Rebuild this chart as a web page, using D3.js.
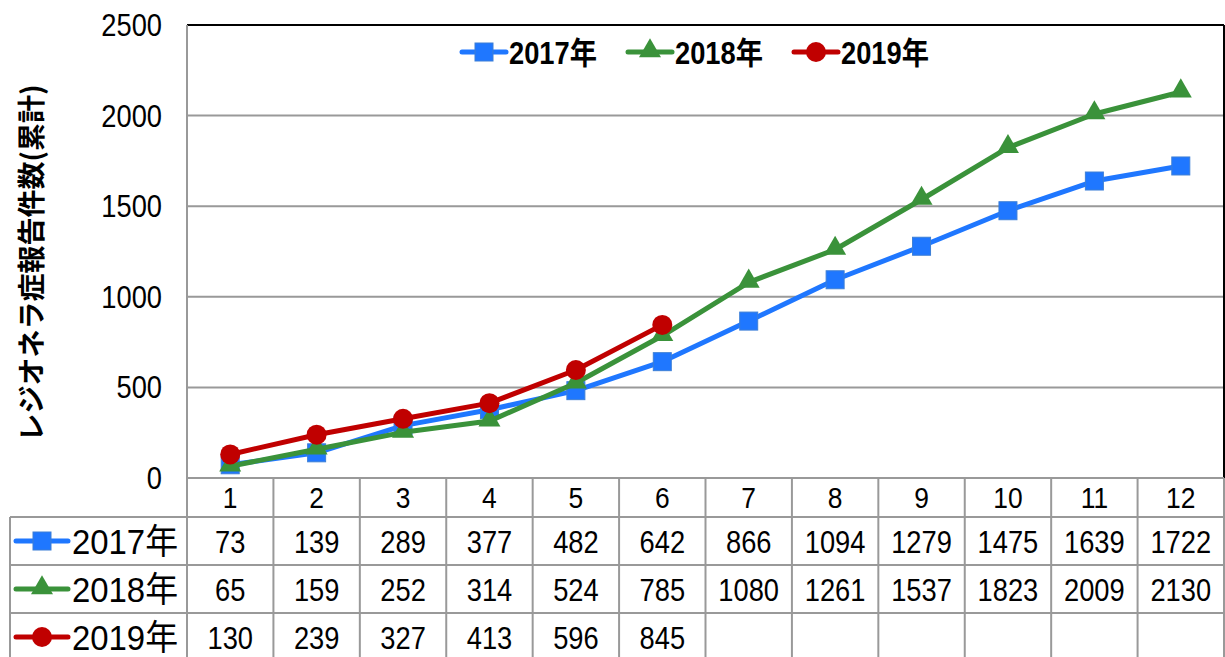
<!DOCTYPE html>
<html>
  <head>
    <meta charset="utf-8">
    <script src="https://d3js.org/d3.v7.min.js"></script>
    <style>
      body { margin: 0; background: #fff; }
      text { font-family: "Liberation Sans", Arial, "Noto Sans CJK JP", sans-serif; }
    </style>
  </head>
  <body>
    <svg></svg>
    <script type="text/javascript">

      var months = [1, 2, 3, 4, 5, 6, 7, 8, 9, 10, 11, 12];
      var y2017 = [73, 139, 289, 377, 482, 642, 866, 1094, 1279, 1475, 1639, 1722];
      var y2018 = [65, 159, 252, 314, 524, 785, 1080, 1261, 1537, 1823, 2009, 2130];
      var y2019 = [130, 239, 327, 413, 596, 845];
      var seriesNames = ["2017年", "2018年", "2019年"];
      var yTicks = [0, 500, 1000, 1500, 2000, 2500];

      var series = [
        {name: seriesNames[0], values: y2017, color: "#1f77ff", shape: "square"},
        {name: seriesNames[1], values: y2018, color: "#3a923a", shape: "triangle"},
        {name: seriesNames[2], values: y2019, color: "#c00000", shape: "circle"}
      ];

      var width = 1225, height = 657;
      var plotLeft = 187, plotRight = 1224, plotTop = 25, plotBottom = 478;
      var rowH = 48, headH = 39, tableLeft = 10;

      var svg = d3.select("svg").attr("width", width).attr("height", height);

      var x = d3.scaleBand().domain(months).range([plotLeft, plotRight]);
      var y = d3.scaleLinear().domain([0, 2500]).range([plotBottom, plotTop]);
      var cx = m => x(m) + x.bandwidth() / 2;

      // narrow text, like the condensed gothic digits of the original
      function ntext(g, tx, ty, str, size, anchor, sx) {
        return g.append("text")
          .attr("transform", "translate(" + tx + "," + ty + ") scale(" + (sx || 0.88) + ",1)")
          .attr("text-anchor", anchor || "start")
          .style("font-size", size + "px")
          .text(str);
      }

      // gridlines
      svg.selectAll("line.grid")
        .data(yTicks.slice(1, -1))
        .join("line")
        .attr("class", "grid")
        .attr("x1", plotLeft).attr("x2", plotRight)
        .attr("y1", d => y(d)).attr("y2", d => y(d))
        .attr("stroke", "#999").attr("stroke-width", 2);

      // frame
      svg.append("line").attr("x1", plotLeft).attr("x2", plotRight).attr("y1", plotTop).attr("y2", plotTop)
        .attr("stroke", "#000").attr("stroke-width", 2);
      svg.append("line").attr("x1", plotRight).attr("x2", plotRight).attr("y1", plotTop).attr("y2", plotBottom)
        .attr("stroke", "#000").attr("stroke-width", 2);
      svg.append("line").attr("x1", plotLeft).attr("x2", plotLeft).attr("y1", plotTop).attr("y2", height)
        .attr("stroke", "#999").attr("stroke-width", 2);

      // y tick labels
      yTicks.forEach(function (t) {
        ntext(svg, 162, y(t) + 11, t, 31, "end");
      });

      // y axis title
      svg.append("text")
        .attr("transform", "translate(42,263) rotate(-90)")
        .attr("text-anchor", "middle")
        .style("font-size", "28px").style("font-weight", "bold")
        .style("font-family", "'Noto Sans CJK JP', sans-serif")
        .text("レジオネラ症報告件数(累計)");

      // table grid
      var tableBottom = plotBottom + headH + rowH * 3 + 2;
      svg.append("line").attr("x1", plotLeft).attr("x2", plotRight).attr("y1", plotBottom).attr("y2", plotBottom)
        .attr("stroke", "#999").attr("stroke-width", 2);
      svg.selectAll("line.rowline")
        .data([0, 1, 2])
        .join("line")
        .attr("class", "rowline")
        .attr("x1", tableLeft).attr("x2", plotRight)
        .attr("y1", d => plotBottom + headH + d * rowH).attr("y2", d => plotBottom + headH + d * rowH)
        .attr("stroke", "#999").attr("stroke-width", 2);
      svg.selectAll("line.colline")
        .data(months)
        .join("line")
        .attr("class", "colline")
        .attr("x1", d => x(d) + x.bandwidth()).attr("x2", d => x(d) + x.bandwidth())
        .attr("y1", plotBottom).attr("y2", tableBottom)
        .attr("stroke", "#999").attr("stroke-width", 2);
      svg.append("line").attr("x1", tableLeft).attr("x2", tableLeft)
        .attr("y1", plotBottom + headH).attr("y2", tableBottom)
        .attr("stroke", "#999").attr("stroke-width", 2);

      // month labels
      months.forEach(function (m) {
        ntext(svg, cx(m), plotBottom + 30, m, 30, "middle");
      });

      function marker(g, shape, color, mx, my) {
        if (shape === "square") {
          g.append("rect").attr("x", mx - 9).attr("y", my - 9).attr("width", 18).attr("height", 18)
            .attr("fill", color).attr("stroke", "#3d7fd6").attr("stroke-width", 1);
        } else if (shape === "triangle") {
          g.append("path").attr("d", d3.symbol().type(d3.symbolTriangle).size(210)())
            .attr("transform", "translate(" + mx + "," + (my - 1) + ")")
            .attr("fill", color);
        } else {
          g.append("circle").attr("cx", mx).attr("cy", my).attr("r", 10).attr("fill", color);
        }
      }

      // table rows
      series.forEach(function (s, i) {
        var rowY = plotBottom + headH + i * rowH + rowH / 2;
        var g = svg.append("g");
        g.append("line").attr("x1", 16).attr("x2", 68).attr("y1", rowY).attr("y2", rowY)
          .attr("stroke", s.color).attr("stroke-width", 5).attr("stroke-linecap", "round");
        marker(g, s.shape, s.color, 42, rowY);
        ntext(g, 72, rowY + 13, s.name, 35, "start", 0.94);
        s.values.forEach(function (v, j) {
          ntext(g, cx(months[j]), rowY + 12, v, 31, "middle");
        });
      });

      // lines + markers
      var line = d3.line()
        .x((d, j) => cx(months[j]))
        .y(d => y(d));

      series.forEach(function (s) {
        svg.append("path").attr("d", line(s.values))
          .attr("fill", "none").attr("stroke", s.color).attr("stroke-width", 5)
          .attr("stroke-linejoin", "round");
        var g = svg.append("g");
        s.values.forEach(function (v, j) {
          marker(g, s.shape, s.color, cx(months[j]), y(v));
        });
      });

      // legend
      var legendX = [462, 628, 794];
      series.forEach(function (s, i) {
        var lx = legendX[i], ly = 52;
        var g = svg.append("g");
        g.append("line").attr("x1", lx).attr("x2", lx + 44).attr("y1", ly).attr("y2", ly)
          .attr("stroke", s.color).attr("stroke-width", 5).attr("stroke-linecap", "round");
        marker(g, s.shape, s.color, lx + 22, ly);
        ntext(g, lx + 47, ly + 12, s.name, 31, "start").style("font-weight", "bold");
      });

    </script>
  </body>
</html>
